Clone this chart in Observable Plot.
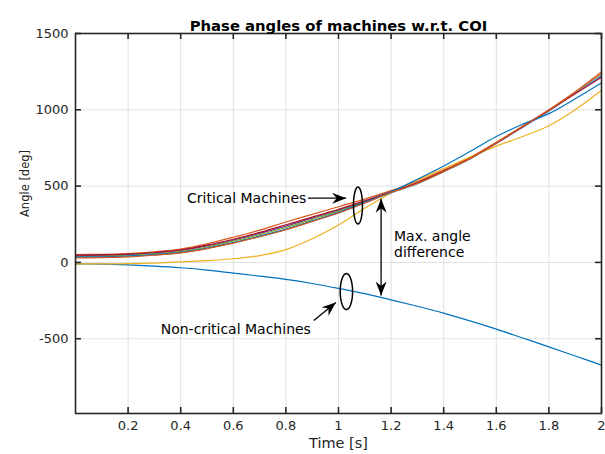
<!DOCTYPE html>
<html><head><meta charset="utf-8">
<script src="https://cdn.jsdelivr.net/npm/d3@7"></script>
<script src="https://cdn.jsdelivr.net/npm/@observablehq/plot@0.6"></script>
<style>body{margin:0;background:#fff}#chart svg{display:block}</style>
</head><body><div id="chart"></div>
<script>
// ---------- data ----------
const time = [0,0.1,0.2,0.3,0.4,0.5,0.6,0.7,0.8,0.9,1.0,1.1,1.2,1.3,1.4,1.5,1.6,1.7,1.8,1.9,2.0];

const nonCritical = [-10,-11,-16,-24,-35,-50,-70,-90,-111,-138,-170,-205,-245,-287,-332,-383,-437,-495,-553,-613,-673];
const orangeTop   = [52,53,58,70,88,122,165,212,265,315,365,415,470,530,605,688,788,893,1000,1118,1250];
const yellowLag   = [-10,-10,-8,-4,3,12,24,45,84,155,245,355,455,540,615,690,762,825,895,1000,1128];
const purple      = [45,46,51,62,78,108,146,190,238,290,342,400,462,520,597,680,780,886,993,1108,1220];
const green       = [40,41,46,57,72,101,139,182,229,282,336,396,460,518,596,680,782,888,996,1112,1230];
const cyan        = [33,34,39,49,64,92,128,170,216,270,325,390,456,515,594,678,780,886,993,1110,1226];
const darkRed     = [48,49,54,65,82,113,152,197,247,297,348,403,463,522,598,682,782,888,995,1105,1213];
const blueCrit    = [36,37,42,52,66,94,130,172,218,272,328,395,462,545,632,727,825,905,975,1072,1176];
const orange2     = [30,31,36,47,62,90,126,168,214,268,324,389,458,517,596,680,783,890,998,1115,1238];

const seriesNames  = ["m1","m2","m3","m4","m5","m6","m7","m8","m9"];
const seriesValues = [nonCritical, orangeTop, yellowLag, purple, green, cyan, darkRed, blueCrit, orange2];
const seriesColors = ["#0072BD","#D95319","#EDB120","#7E2F8E","#77AC30","#4DBEEE","#A2142F","#0072BD","#D95319"];

const xTicks = [0.2,0.4,0.6,0.8,1,1.2,1.4,1.6,1.8,2];
const xTickLabels = ["0.2","0.4","0.6","0.8","1","1.2","1.4","1.6","1.8","2"];
const yTicks = [-500,0,500,1000,1500];
const yTickLabels = ["-500","0","500","1000","1500"];

const titleText = "Phase angles of machines w.r.t. COI";
const xLabel = "Time [s]";
const yLabel = "Angle [deg]";

// annotations (data coordinates)
const noteText = ["Critical Machines","Non-critical Machines","Max. angle","difference"];
const noteT    = [0.878, 0.324, 1.211, 1.211];
const noteV    = [421, -441, 172, 67];
const noteAnchor = ["end","start","start","start"];

const arrowsFrom = [[0.884,421],[0.906,-381],[1.162,-100],[1.162,-100]];
const arrowsTo   = [[1.029,421],[0.990,-263],[1.162,417],[1.162,-217]];

const ellipseCenter = [[1.074,373],[1.030,-191]];
const ellipseRadius = [[0.0171,121],[0.0235,118]];

// ---------- layout ----------
const W = 605, H = 454;
const mL = 75, mR = 4, mT = 33, mB = 41;
const xDomain = [0,2], yDomain = [-990,1500];
const pxPerX = (W - mL - mR) / (xDomain[1]-xDomain[0]);
const pxPerY = (H - mT - mB) / (yDomain[1]-yDomain[0]);
const tickLen = 6;

const rows = [];
seriesValues.forEach((vals, k) => vals.forEach((v, i) => rows.push({name: seriesNames[k], color: seriesColors[k], t: time[i], v})));

const ellipsePts = [];
ellipseCenter.forEach(([ct, cv], k) => {
  const [rt, rv] = ellipseRadius[k];
  for (let a = 0; a <= 360; a += 6) {
    const r = a * Math.PI / 180;
    ellipsePts.push({k, t: ct + rt * Math.cos(r), v: cv + rv * Math.sin(r)});
  }
});

const arrows = arrowsFrom.map((f, i) => {
  const to = arrowsTo[i];
  const dx = (to[0]-f[0]) * pxPerX, dy = -(to[1]-f[1]) * pxPerY;
  return {x1: f[0], y1: f[1], x2: to[0], y2: to[1], rot: Math.atan2(dx, -dy) * 180 / Math.PI};
});

const arrowHead = {
  draw(ctx) {
    ctx.moveTo(0, 0);
    ctx.lineTo(5.5, 14);
    ctx.lineTo(0, 9.5);
    ctx.lineTo(-5.5, 14);
    ctx.closePath();
  }
};

const notes = noteText.map((s, i) => ({s, t: noteT[i], v: noteV[i], a: noteAnchor[i]}));

const ink = "#262626";
const tk = {stroke: ink, strokeWidth: 1.6};
const chart = Plot.plot({
  width: W, height: H,
  marginLeft: mL, marginRight: mR, marginTop: mT, marginBottom: mB,
  style: {fontFamily: "DejaVu Sans", fontSize: "13px", color: ink, background: "#fff"},
  x: {domain: xDomain, axis: null},
  y: {domain: yDomain, axis: null},
  color: {type: "identity"},
  marks: [
    Plot.gridX(xTicks, {stroke: "#e0e0e0", strokeOpacity: 1, strokeWidth: 1}),
    Plot.gridY(yTicks, {stroke: "#e0e0e0", strokeOpacity: 1, strokeWidth: 1}),
    Plot.line(rows, {x: "t", y: "v", z: "name", stroke: "color", strokeWidth: 1.2, curve: "monotone-x"}),
    Plot.line(ellipsePts, {x: "t", y: "v", z: "k", stroke: "black", strokeWidth: 1.5}),
    Plot.link(arrows, {x1: "x1", y1: "y1", x2: "x2", y2: "y2", stroke: "black", strokeWidth: 1.3}),
    Plot.dot(arrows, {x: "x2", y: "y2", rotate: "rot", symbol: arrowHead, fill: "black", stroke: "none"}),
    Plot.text(notes.filter(d => d.a === "end"), {x: "t", y: "v", text: "s", textAnchor: "end", fontSize: 14, fill: "black"}),
    Plot.text(notes.filter(d => d.a === "start"), {x: "t", y: "v", text: "s", textAnchor: "start", fontSize: 14, fill: "black"}),
    Plot.frame({stroke: ink, strokeWidth: 1.6}),
    // inward ticks on all four sides
    Plot.ruleX(xTicks, {x: d => d, y1: yDomain[0], y2: yDomain[0] + tickLen / pxPerY, ...tk}),
    Plot.ruleX(xTicks, {x: d => d, y1: yDomain[1], y2: yDomain[1] - tickLen / pxPerY, ...tk}),
    Plot.ruleY(yTicks, {y: d => d, x1: xDomain[0], x2: xDomain[0] + tickLen / pxPerX, ...tk}),
    Plot.ruleY(yTicks, {y: d => d, x1: xDomain[1], x2: xDomain[1] - tickLen / pxPerX, ...tk}),
    // tick labels
    Plot.text(xTicks, {x: d => d, frameAnchor: "bottom", dy: 16.5, text: (d, i) => xTickLabels[i], fill: ink, fontSize: 13}),
    Plot.text(yTicks, {y: d => d, frameAnchor: "left", dx: -7, textAnchor: "end", text: (d, i) => yTickLabels[i], fill: ink, fontSize: 13}),
    Plot.text([titleText], {frameAnchor: "top", dy: -12.7, fontSize: 14.8, fontWeight: "bold", fill: "black"}),
    Plot.text([xLabel], {frameAnchor: "bottom", dy: 34.4, fontSize: 14.5, fill: ink}),
    Plot.text([yLabel], {frameAnchor: "left", dx: -50, dy: -6.5, rotate: -90, fontSize: 11.5, fill: ink})
  ]
});
document.getElementById("chart").appendChild(chart);
</script>
</body></html>
